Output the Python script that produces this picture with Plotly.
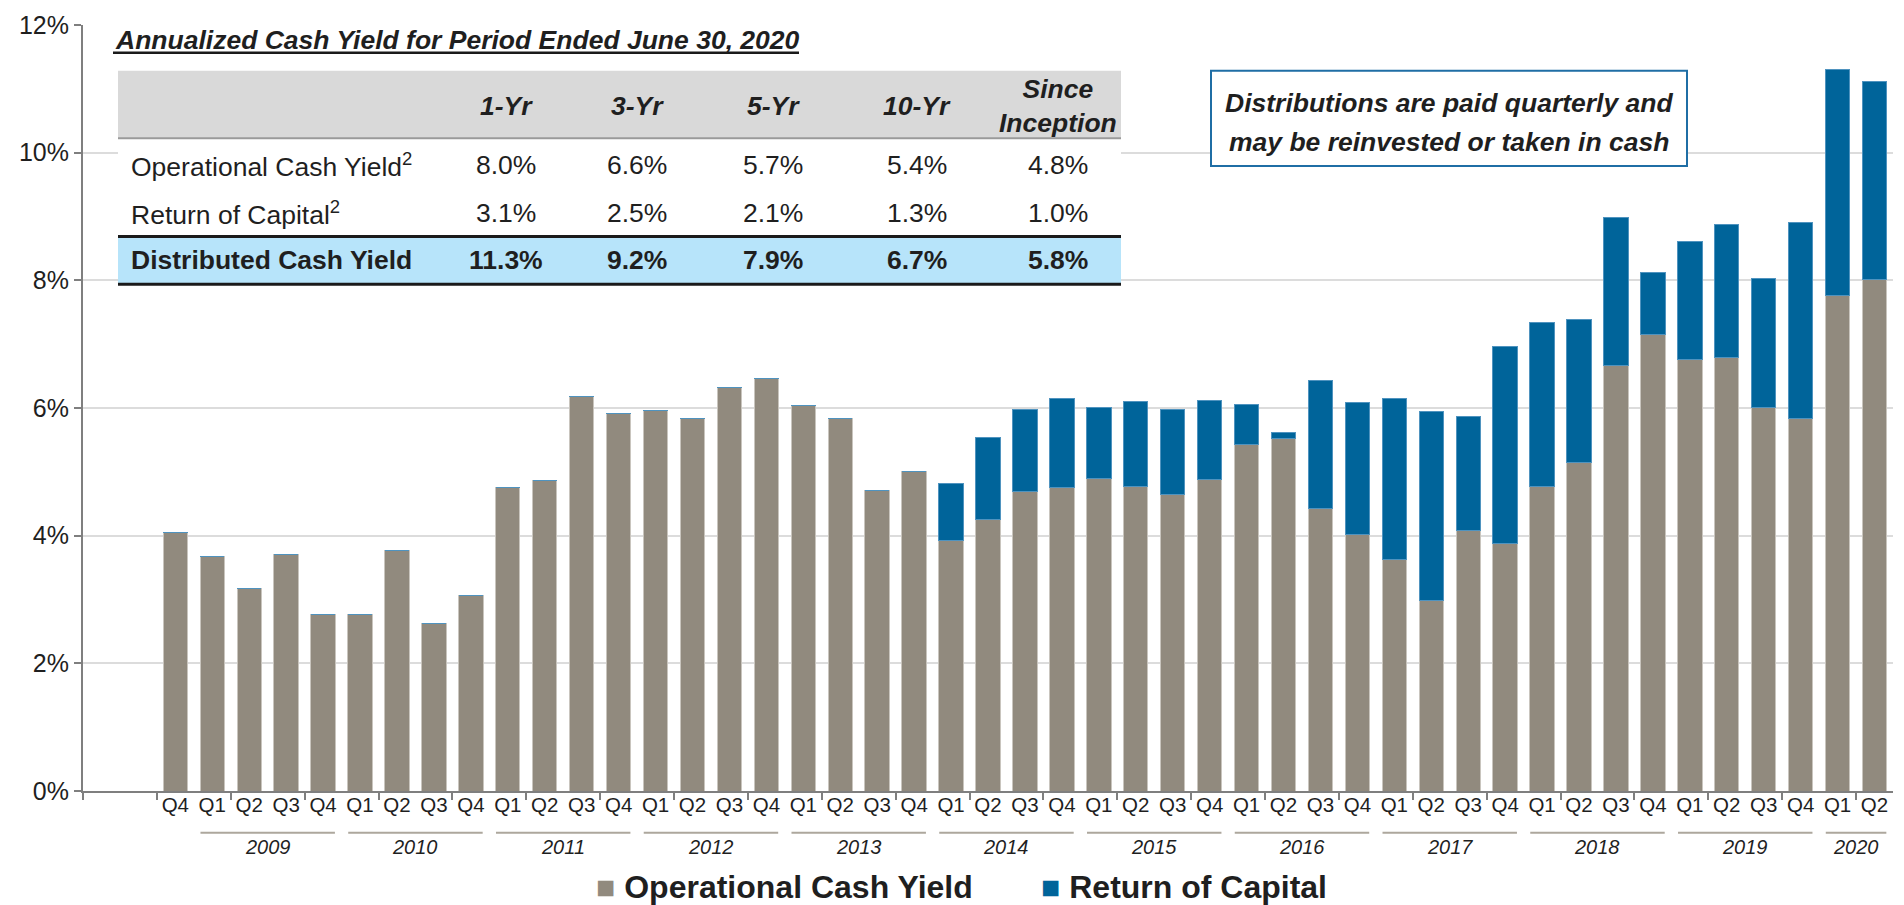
import plotly.graph_objects as go

# quarterly distribution yields (%)
periods = ['2008 Q4',
           '2009 Q1', '2009 Q2', '2009 Q3', '2009 Q4',
           '2010 Q1', '2010 Q2', '2010 Q3', '2010 Q4',
           '2011 Q1', '2011 Q2', '2011 Q3', '2011 Q4',
           '2012 Q1', '2012 Q2', '2012 Q3', '2012 Q4',
           '2013 Q1', '2013 Q2', '2013 Q3', '2013 Q4',
           '2014 Q1', '2014 Q2', '2014 Q3', '2014 Q4',
           '2015 Q1', '2015 Q2', '2015 Q3', '2015 Q4',
           '2016 Q1', '2016 Q2', '2016 Q3', '2016 Q4',
           '2017 Q1', '2017 Q2', '2017 Q3', '2017 Q4',
           '2018 Q1', '2018 Q2', '2018 Q3', '2018 Q4',
           '2019 Q1', '2019 Q2', '2019 Q3', '2019 Q4',
           '2020 Q1', '2020 Q2']

operational = [4.05,
               3.68, 3.18, 3.71, 2.77,
               2.77, 3.77, 2.63, 3.07,
               4.75, 4.87, 6.18, 5.92,
               5.96, 5.84, 6.32, 6.46,
               6.04, 5.83, 4.71, 5.00,
               3.92, 4.25, 4.69, 4.75,
               4.89, 4.77, 4.64, 4.88,
               5.43, 5.52, 4.42, 4.02,
               3.62, 2.98, 4.08, 3.88,
               4.77, 5.15, 6.67, 7.15,
               6.76, 6.79, 6.01, 5.84,
               7.77, 8.02]

return_of_capital = [0,
                     0, 0, 0, 0,
                     0, 0, 0, 0,
                     0, 0, 0, 0,
                     0, 0, 0, 0,
                     0, 0, 0, 0,
                     0.89, 1.29, 1.29, 1.40,
                     1.12, 1.33, 1.33, 1.23,
                     0.62, 0.10, 2.01, 2.06,
                     2.53, 2.96, 1.78, 3.09,
                     2.57, 2.24, 2.32, 0.97,
                     1.85, 2.08, 2.02, 3.06,
                     3.53, 3.09]

year_labels = ['2009', '2010', '2011', '2012', '2013', '2014',
               '2015', '2016', '2017', '2018', '2019', '2020']

y_ticks = [0, 2, 4, 6, 8, 10, 12]

# inset table
table_title = 'Annualized Cash Yield for Period Ended June 30, 2020'
table_columns = ['1-Yr', '3-Yr', '5-Yr', '10-Yr', 'Since<br>Inception']
table_rows = ['Operational Cash Yield<sup>2</sup>', 'Return of Capital<sup>2</sup>', 'Distributed Cash Yield']
table_operational = [8.0, 6.6, 5.7, 5.4, 4.8]
table_roc = [3.1, 2.5, 2.1, 1.3, 1.0]
table_distributed = [11.3, 9.2, 7.9, 6.7, 5.8]

note_lines = ['Distributions are paid quarterly and', 'may be reinvested or taken in cash']

GRAY = '#918A7E'
BLUE = '#00649A'
TEXT = '#1F1F1F'
FONT = 'Liberation Sans, Arial, sans-serif'

W, H = 1904, 905
L, R, T, B = 83, 11, 20, 114


# pixel -> paper helpers for the overlay pieces
def px(x):
    return (x - L) / (W - L - R)


def py(y):
    return (H - B - y) / (H - T - B)


x = list(range(len(periods)))
quarters = [p.split()[1] for p in periods]

fig = go.Figure()
fig.add_trace(go.Bar(x=x, y=operational, name='Operational Cash Yield',
                     marker=dict(color=GRAY, line=dict(color='#C9C5BE', width=1))))
fig.add_trace(go.Bar(x=x, y=return_of_capital, name='Return of Capital',
                     marker=dict(color=BLUE, line=dict(color='#4F93BF', width=1))))

shapes = []
annotations = []

# year groups under the quarter labels
for yr in year_labels:
    idx = [i for i, p in enumerate(periods) if p.startswith(yr)]
    shapes.append(dict(type='line', xref='x', yref='paper',
                       x0=idx[0] - 0.32, x1=idx[-1] + 0.32, y0=py(833), y1=py(833),
                       line=dict(color='#ADA79D', width=2)))
    annotations.append(dict(x=(idx[0] + idx[-1]) / 2, y=py(847), xref='x', yref='paper',
                            text=yr, showarrow=False, xanchor='center', yanchor='middle',
                            font=dict(size=20, style='italic', color=TEXT)))

# table background / bands
shapes += [
    dict(type='rect', xref='paper', yref='paper', x0=px(118), x1=px(1121), y0=py(282), y1=py(63),
         fillcolor='white', line=dict(width=0), layer='above'),
    dict(type='rect', xref='paper', yref='paper', x0=px(118), x1=px(1121), y0=py(134), y1=py(66),
         fillcolor='#D9D9D9', line=dict(width=0), layer='above'),
    dict(type='line', xref='paper', yref='paper', x0=px(118), x1=px(1121), y0=py(134), y1=py(134),
         line=dict(color='#9A9A9A', width=2), layer='above'),
    dict(type='rect', xref='paper', yref='paper', x0=px(118), x1=px(1121), y0=py(281), y1=py(233),
         fillcolor='#B7E4FA', line=dict(width=0), layer='above'),
    dict(type='line', xref='paper', yref='paper', x0=px(118), x1=px(1121), y0=py(233), y1=py(233),
         line=dict(color='#1A1A1A', width=3), layer='above'),
    dict(type='line', xref='paper', yref='paper', x0=px(118), x1=px(1121), y0=py(281), y1=py(281),
         line=dict(color='#1A1A1A', width=3), layer='above'),
    # underline of the table title
    dict(type='line', xref='paper', yref='paper', x0=px(113), x1=px(799), y0=py(48), y1=py(48),
         line=dict(color='#1A1A1A', width=2.5), layer='above'),
    # note box
    dict(type='rect', xref='paper', yref='paper', x0=px(1211), x1=px(1687), y0=py(162), y1=py(66),
         fillcolor='white', line=dict(color='#1F6EA5', width=2), layer='above'),
]

annotations.append(dict(x=px(113), y=py(35), xref='paper', yref='paper', text=table_title,
                        showarrow=False, xanchor='left', yanchor='middle',
                        font=dict(size=26.5, weight='bold', style='italic', color=TEXT)))

col_x = [506, 637, 773, 917, 1058]
row_y = [161, 209, 257]
for cx, head, v1, v2, v3 in zip(col_x, table_columns, table_operational, table_roc, table_distributed):
    annotations.append(dict(x=px(cx), y=py(102), xref='paper', yref='paper', text=head,
                            showarrow=False, xanchor='center', yanchor='middle',
                            font=dict(size=26.5, weight='bold', style='italic', color=TEXT)))
    for ry, v, bold in zip(row_y, [v1, v2, v3], [False, False, True]):
        annotations.append(dict(x=px(cx), y=py(ry), xref='paper', yref='paper', text=f'{v:.1f}%',
                                showarrow=False, xanchor='center', yanchor='middle',
                                font=dict(size=26.5, weight='bold' if bold else 'normal', color=TEXT)))

for ry, lab, bold in zip(row_y, table_rows, [False, False, True]):
    annotations.append(dict(x=px(129), y=py(ry), xref='paper', yref='paper', text=lab,
                            showarrow=False, xanchor='left', yanchor='middle',
                            font=dict(size=26.5, weight='bold' if bold else 'normal', color=TEXT)))

for ly, line in zip([99, 138], note_lines):
    annotations.append(dict(x=px(1449), y=py(ly), xref='paper', yref='paper', text=line,
                            showarrow=False, xanchor='center', yanchor='middle',
                            font=dict(size=26.5, weight='bold', style='italic', color=TEXT)))

# legend drawn as text so the swatches can be large squares
annotations.append(dict(x=px(594), y=py(888), xref='paper', yref='paper',
                        text=f'<span style="color:{GRAY}">■</span> Operational Cash Yield',
                        showarrow=False, xanchor='left', yanchor='middle',
                        font=dict(size=32, weight='bold', color=TEXT)))
annotations.append(dict(x=px(1039), y=py(888), xref='paper', yref='paper',
                        text=f'<span style="color:{BLUE}">■</span> Return of Capital',
                        showarrow=False, xanchor='left', yanchor='middle',
                        font=dict(size=32, weight='bold', color=TEXT)))

fig.update_layout(
    width=W, height=H,
    margin=dict(l=L, r=R, t=T, b=B),
    barmode='stack', bargap=0.34,
    plot_bgcolor='white', paper_bgcolor='white',
    showlegend=False,
    font=dict(family=FONT, color=TEXT),
    shapes=shapes, annotations=annotations,
)

fig.update_xaxes(range=[-2.5, len(periods) - 0.5],
                 tickmode='array', tickvals=x, ticktext=quarters,
                 ticks='', tickfont=dict(size=20.5, color=TEXT), ticklabelstandoff=-6,
                 showline=True, linecolor='#7F7F7F', linewidth=2,
                 showgrid=False, zeroline=False,
                 minor=dict(tickmode='array', tickvals=[-2.5 + 2 * k for k in range(25)],
                            ticks='outside', ticklen=7, tickwidth=2, tickcolor='#7F7F7F',
                            showgrid=False))

fig.update_yaxes(range=[0, 12], tickmode='array', tickvals=y_ticks,
                 ticktext=[f'{v}%' for v in y_ticks], tickfont=dict(size=25, color=TEXT),
                 showgrid=True, gridcolor='#DCDCDC', gridwidth=2,
                 showline=True, linecolor='#7F7F7F', linewidth=2,
                 ticks='outside', ticklen=7, tickwidth=2, tickcolor='#7F7F7F',
                 zeroline=False)

# the page body has a default 8px margin; drop it so the figure fills the window
fig.write_html("out.html", config={'displayModeBar': False},
               post_script="document.body.style.margin='0px';")
